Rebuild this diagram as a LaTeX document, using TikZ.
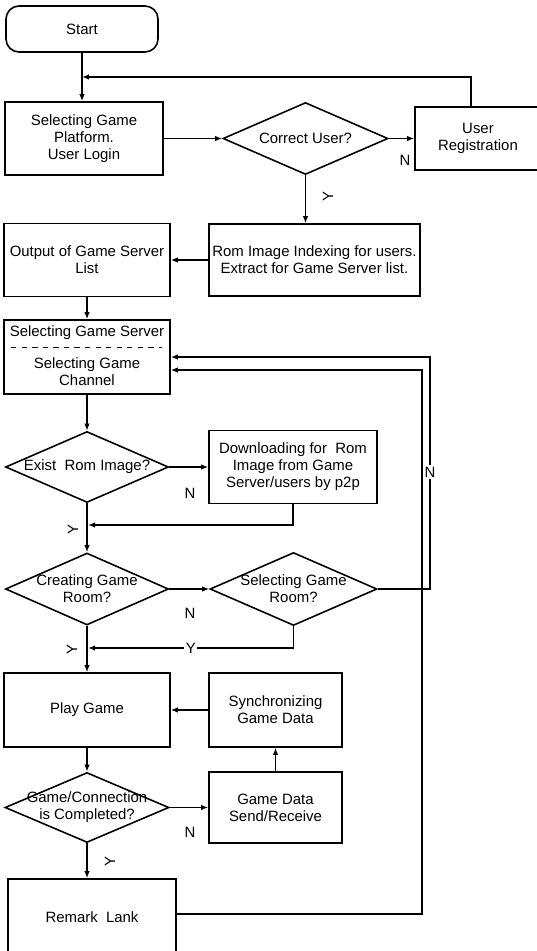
\documentclass[tikz,border=0pt]{standalone}
\usepackage{fontspec}
\setmainfont{Liberation Sans}
\usepackage{tikz}
\usetikzlibrary{shapes,arrows.meta,positioning,calc}

\begin{document}
\begin{tikzpicture}
  [
    x=0.2mm, y=-0.2mm,
    font=\fontsize{8.5}{9.6}\selectfont,
    Block/.style={rectangle, draw=black, line width=0.9pt, align=center, inner sep=1pt},
    Terminal/.style={Block, rounded corners=2.6mm},
    Decision/.style={diamond, draw=black, line width=0.9pt, inner sep=0pt},
    Flow/.style={-{Latex[length=1.4mm,width=1.1mm]}, draw, line width=0.8pt},
    Mark/.style={inner sep=1pt}
  ]
  \useasboundingbox (0,0) rectangle (536,951);

  % Nodes
  \node[Terminal, minimum width=30.4mm, minimum height=9.2mm] (start) at (82,29) {Start};
  \node[Block, minimum width=31.6mm, minimum height=14.6mm] (platform) at (84,138.5) {Selecting Game\\Platform.\\User Login};
  \node[Decision, minimum width=33mm, minimum height=14.4mm, label={[align=center]center:Correct User?}] (correct) at (305.5,138.5) {};
  \node[Block, minimum width=25.2mm, minimum height=12.6mm] (reg) at (478,138.5) {User\\Registration};

  \node[Block, minimum width=42.2mm, minimum height=14.4mm] (romidx) at (314.5,260) {Rom Image Indexing for users.\\Extract for Game Server list.};
  \node[Block, minimum width=33.2mm, minimum height=14.6mm] (output) at (87,260) {Output of Game Server\\List};

  \node[Block, minimum width=33.2mm, minimum height=14.8mm] (selserver) at (87,357) {};
  \node[Mark, below=0.9mm of selserver.north] (srvtext) {Selecting Game Server};
  \node[Mark, align=center, above=1.4mm of selserver.south] (chantext) {Selecting Game\\Channel};
  \draw[dashed, line width=0.6pt] ([xshift=1.6mm,yshift=-5.6mm]selserver.north west) -- ([xshift=-1.8mm,yshift=-5.6mm]selserver.north east);

  \node[Decision, minimum width=32.6mm, minimum height=14.2mm, label={[align=center]center:Exist\ \ Rom Image?}] (exist) at (87,467) {};
  \node[Block, minimum width=33.6mm, minimum height=14.6mm] (download) at (293,467) {Downloading for\ \ Rom\\Image from Game\\Server/users by p2p};

  \node[Decision, minimum width=32.6mm, minimum height=14.4mm, label={[align=center]center:Creating Game\\Room?}] (creating) at (87,589) {};
  \node[Decision, minimum width=33.4mm, minimum height=14.6mm, label={[align=center]center:Selecting Game\\Room?}] (selroom) at (293.5,589) {};

  \node[Block, minimum width=33.2mm, minimum height=14.8mm] (play) at (87,710) {Play Game};
  \node[Block, minimum width=26.6mm, minimum height=14.8mm] (sync) at (275.5,710) {Synchronizing\\Game Data};

  \node[Decision, minimum width=32.8mm, minimum height=14mm, label={[align=center]center:Game/Connection\\is Completed?}] (completed) at (87,807.5) {};
  \node[Block, minimum width=26.6mm, minimum height=14.2mm] (gamedata) at (275.5,807.5) {Game Data\\Send/Receive};

  \node[Block, minimum width=33.6mm, minimum height=15.2mm] (remark) at (92,917) {Remark\ \ Lank};

  % Lines
  \coordinate (back) at ($(start.south)!0.5!(start.south |- platform.north)$);
  \path [Flow] (start.south) -- (start.south |- platform.north);
  \path [Flow] ([xshift=-1.4mm]reg.north) |- (back);
  \path [Flow] (platform) -- (correct);
  \path [Flow] (correct) -- (reg);
  \path [Flow] (correct.south) -- (correct.south |- romidx.north);
  \path [Flow] (romidx) -- (output);
  \path [Flow] (output) -- (selserver);
  \path [Flow] (selserver) -- (exist);
  \path [Flow] (exist) -- (download);
  \coordinate (join1) at (88,525);
  \path [Flow] (download.south) |- (join1);
  \path [Flow] (exist) -- (creating);
  \path [Flow] (creating) -- (selroom);
  \coordinate (join2) at (88,648);
  \path [Flow] (selroom.south) |- (join2) node[Mark, fill=white, pos=0.75] (ysel) {Y};
  \path [Flow] (creating) -- (play);
  \path [Flow] (sync) -- (play);
  \path [Flow] (gamedata) -- (sync);
  \path [Flow] (play) -- (completed);
  \path [Flow] (completed) -- (gamedata);
  \path [Flow] (completed.south) -- (completed.south |- remark.north);

  % back to server selection
  \coordinate (loopN) at (430,357);
  \coordinate (loopR) at (422,370);
  \path [Flow] (selroom.east) -| (loopN) -- (selserver.east |- loopN);
  \path [Flow] (remark.east |- 0,914) -| (loopR) -- (selserver.east |- loopR);

  % Marks
  \node[Mark] (ncorrect) at (405,160) {N};
  \node[Mark, rotate=90] (ycorrect) at (328,197) {Y};
  \node[Mark] (nexist) at (190,493) {N};
  \node[Mark, rotate=90] (yexist) at (73,530) {Y};
  \node[Mark] (ncreating) at (190,613) {N};
  \node[Mark, rotate=90] (ycreating) at (72,650) {Y};
  \node[Mark] (ncompleted) at (190,832) {N};
  \node[Mark, rotate=90] (ycompleted) at (110,862) {Y};
  \node[Mark, fill=white] (nloop) at (430,472) {N};

\end{tikzpicture}
\end{document}
